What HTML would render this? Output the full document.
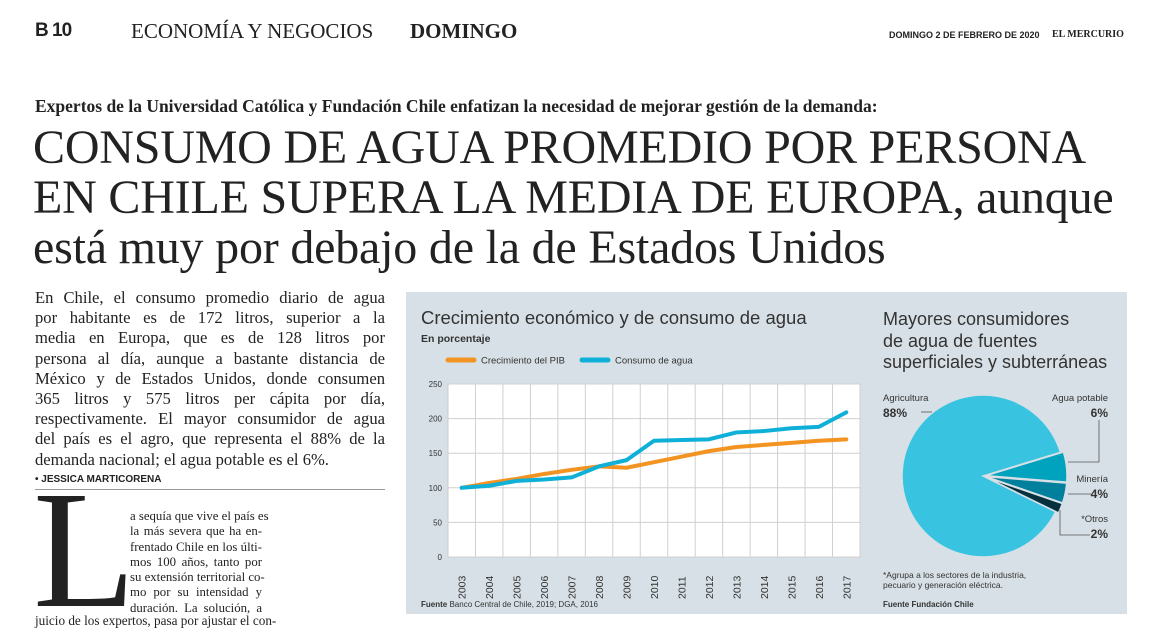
<!DOCTYPE html>
<html><head><meta charset="utf-8"><style>
*{margin:0;padding:0;box-sizing:border-box}
body{width:1165px;height:620px;background:#fff;position:relative;overflow:hidden;font-family:"Liberation Serif",serif;color:#222}
.abs{position:absolute;white-space:nowrap}
.sans{font-family:"Liberation Sans",sans-serif}
.jl{display:block;text-align:justify;text-align-last:justify;white-space:nowrap}
</style></head><body>
<div class="abs sans" style="left:35px;top:20px;font-size:19px;font-weight:bold;letter-spacing:-1px">B 10</div>
<div class="abs" style="left:131px;top:19px;font-size:21px">ECONOMÍA Y NEGOCIOS</div>
<div class="abs" style="left:410px;top:19px;font-size:21px;font-weight:bold">DOMINGO</div>
<div class="abs sans" style="left:889px;top:30px;font-size:9px;font-weight:bold">DOMINGO 2 DE FEBRERO DE 2020</div>
<div class="abs" style="left:1052px;top:29px;font-size:10px;font-weight:bold">EL MERCURIO</div>
<div class="abs" style="left:35px;top:96px;font-size:17.5px;font-weight:bold">Expertos de la Universidad Católica y Fundación Chile enfatizan la necesidad de mejorar gestión de la demanda:</div>
<div class="abs" style="left:33px;top:123px;font-size:48px;line-height:50px;letter-spacing:-0.2px;white-space:normal;width:1120px">CONSUMO DE AGUA PROMEDIO POR PERSONA<br>EN CHILE SUPERA LA MEDIA DE EUROPA, aunque<br>está muy por debajo de la de Estados Unidos</div>
<div class="abs" style="left:35px;top:288px;font-size:16.6px;line-height:20.2px;width:350px">
<span class="jl">En Chile, el consumo promedio diario de agua</span>
<span class="jl">por habitante es de 172 litros, superior a la</span>
<span class="jl">media en Europa, que es de 128 litros por</span>
<span class="jl">persona al día, aunque a bastante distancia de</span>
<span class="jl">México y de Estados Unidos, donde consumen</span>
<span class="jl">365 litros y 575 litros per cápita por día,</span>
<span class="jl">respectivamente. El mayor consumidor de agua</span>
<span class="jl">del país es el agro, que representa el 88% de la</span>
<span style="display:block">demanda nacional; el agua potable es el 6%.</span>
</div>
<div class="abs sans" style="left:35px;top:474px;font-size:10px;font-weight:bold">• JESSICA MARTICORENA</div>
<div style="position:absolute;left:35px;top:489px;width:350px;height:1px;background:#999"></div>
<div class="abs" style="left:33px;top:466px;font-size:168px;line-height:168px">L</div>
<div class="abs" style="left:130px;top:509px;font-size:12.8px;line-height:15.3px;width:132px">
<span class="jl">a sequía que vive el país es</span>
<span class="jl">la más severa que ha en-</span>
<span class="jl">frentado Chile en los últi-</span>
<span class="jl">mos 100 años, tanto por</span>
<span class="jl">su extensión territorial co-</span>
<span class="jl">mo por su intensidad y</span>
<span class="jl">duración. La solución, a</span>
</div>
<div class="abs" style="left:35px;top:613px;font-size:13.2px">juicio de los expertos, pasa por ajustar el con-</div>

<div style="position:absolute;left:406px;top:292px;width:721px;height:322px;background:#d7e0e6"></div>
<div class="abs sans" style="left:421px;top:307px;font-size:18.5px;color:#333">Crecimiento económico y de consumo de agua</div>
<div class="abs sans" style="left:421px;top:333px;font-size:10.5px;font-weight:bold;color:#333">En porcentaje</div>
<svg id="lc" style="position:absolute;left:0;top:0" width="1165" height="620"></svg>
<div class="abs sans" style="left:421px;top:600px;font-size:8px;color:#333"><b>Fuente</b> Banco Central de Chile, 2019; DGA, 2016</div>

<div class="abs sans" style="left:883px;top:309px;font-size:18px;line-height:21.5px;color:#333">Mayores consumidores<br>de agua de fuentes<br>superficiales y subterráneas</div>
<svg id="pc" style="position:absolute;left:0;top:0" width="1165" height="620"></svg>
<div class="abs sans" style="left:883px;top:570px;font-size:8.5px;line-height:10px;color:#333">*Agrupa a los sectores de la industria,<br>pecuario y generación eléctrica.</div>
<div class="abs sans" style="left:883px;top:600px;font-size:8px;font-weight:bold;color:#333">Fuente Fundación Chile</div>

<script>
const years=["2003","2004","2005","2006","2007","2008","2009","2010","2011","2012","2013","2014","2015","2016","2017"];
const pib=[100,107,113,120,126,131,129,137,145,153,159,162,165,168,170];
const agua=[100,103,110,112,115,131,140,168,169,170,180,182,186,188,209];
const yTicks=[0,50,100,150,200,250];
const NS="http://www.w3.org/2000/svg";
const lc=document.getElementById('lc');
const x0=448,x1=860,yTop=384,yBot=557;
const step=(x1-x0)/years.length;
const xS=i=>x0+step*(i+0.5);
const yS=v=>yBot-(v/250)*(yBot-yTop);
function mk(tag,attrs,parent){const e=document.createElementNS(NS,tag);for(const k in attrs)e.setAttribute(k,attrs[k]);parent.appendChild(e);return e;}
mk('rect',{x:x0,y:yTop,width:x1-x0,height:yBot-yTop,fill:'#fff',stroke:'#ccc'},lc);
yTicks.forEach(t=>{
  const l=mk('line',{x1:x0,x2:x1,y1:yS(t),y2:yS(t),stroke:'#d0d0d0','stroke-width':1},lc);
  
  
  const tx=mk('text',{x:x0-6,y:yS(t)+3,'text-anchor':'end','font-size':'8','font-family':'Liberation Sans, sans-serif',fill:'#333'},lc);
  tx.textContent=t;
  
  
});
years.forEach((y,i)=>{
  const l=mk('line',{x1:x0+step*(i+1),x2:x0+step*(i+1),y1:yTop,y2:yBot,stroke:'#d0d0d0'},lc);
  
  
  const tx=mk('text',{transform:`translate(${xS(i)+4},${yBot+42}) rotate(-90)`,'font-size':'10.5','font-family':'Liberation Sans, sans-serif',fill:'#333'},lc);
  tx.textContent=y;
  
  
});
function series(vals,color,name){
  const p=mk('polyline',{points:vals.map((v,i)=>xS(i)+','+yS(v)).join(' '),fill:'none',stroke:color,'stroke-width':4,'stroke-linejoin':'round','stroke-linecap':'round'},lc);
  
  
}
series(pib,'#f39322','pib-line');
series(agua,'#0fb0d8','water-line');
[[448,'#f39322','Crecimiento del PIB'],[582,'#0fb0d8','Consumo de agua']].forEach(([lx,c,t])=>{
  const l=mk('line',{x1:lx,x2:lx+26,y1:360,y2:360,stroke:c,'stroke-width':5,'stroke-linecap':'round'},lc);
  
  
  const tx=mk('text',{x:lx+33,y:363.5,'font-size':'9.5','font-family':'Liberation Sans, sans-serif',fill:'#333'},lc);
  tx.textContent=t;
  
  
});

// Pie
const pieLabels=["Agricultura","Agua potable","Minería","*Otros"];
const pieValues=[88,6,4,2];
const pieColors=['#38c3e0','#00a3bd','#00809c','#05303e'];
const pc=document.getElementById('pc');
const cx=983,cy=476,r=81;
let a=-17-360*0.88;
pieValues.forEach((v,i)=>{
  const span=v/100*360;const mid=(a+span/2)*Math.PI/180;
  const off=i===0?0:3;
  const ox=cx+off*Math.cos(mid),oy=cy+off*Math.sin(mid);
  const a0=a*Math.PI/180,a1=(a+span)*Math.PI/180;
  const d=`M${ox},${oy} L${ox+r*Math.cos(a0)},${oy+r*Math.sin(a0)} A${r},${r} 0 ${span>180?1:0} 1 ${ox+r*Math.cos(a1)},${oy+r*Math.sin(a1)} Z`;
  const p=mk('path',{d:d,fill:pieColors[i],stroke:'#d7e0e6','stroke-width':1.5},pc);
  
  
  a+=span;
});
const labelPos=[[883,401,'start'],[1108,401,'end'],[1108,482,'end'],[1108,522,'end']];
pieLabels.forEach((t,i)=>{
  const [lx,ly,anc]=labelPos[i];
  const n=mk('text',{x:lx,y:ly,'text-anchor':anc,'font-size':'9.5','font-family':'Liberation Sans, sans-serif',fill:'#333'},pc);
  n.textContent=t;
  
  
  const vv=mk('text',{x:lx,y:ly+16,'text-anchor':anc,'font-size':'12','font-weight':'bold','font-family':'Liberation Sans, sans-serif',fill:'#333'},pc);
  vv.textContent=pieValues[i]+'%';
  
  
});
const leaders=["M921,412 L932,412","M1068,462 L1099,462 L1099,420","M1068,494 L1093,494","M1060,510 L1060,535 L1090,535"];
leaders.forEach(d=>{
  const p=mk('path',{d:d,fill:'none',stroke:'#555','stroke-width':0.8},pc);
  
  
});
</script>
</body></html>
